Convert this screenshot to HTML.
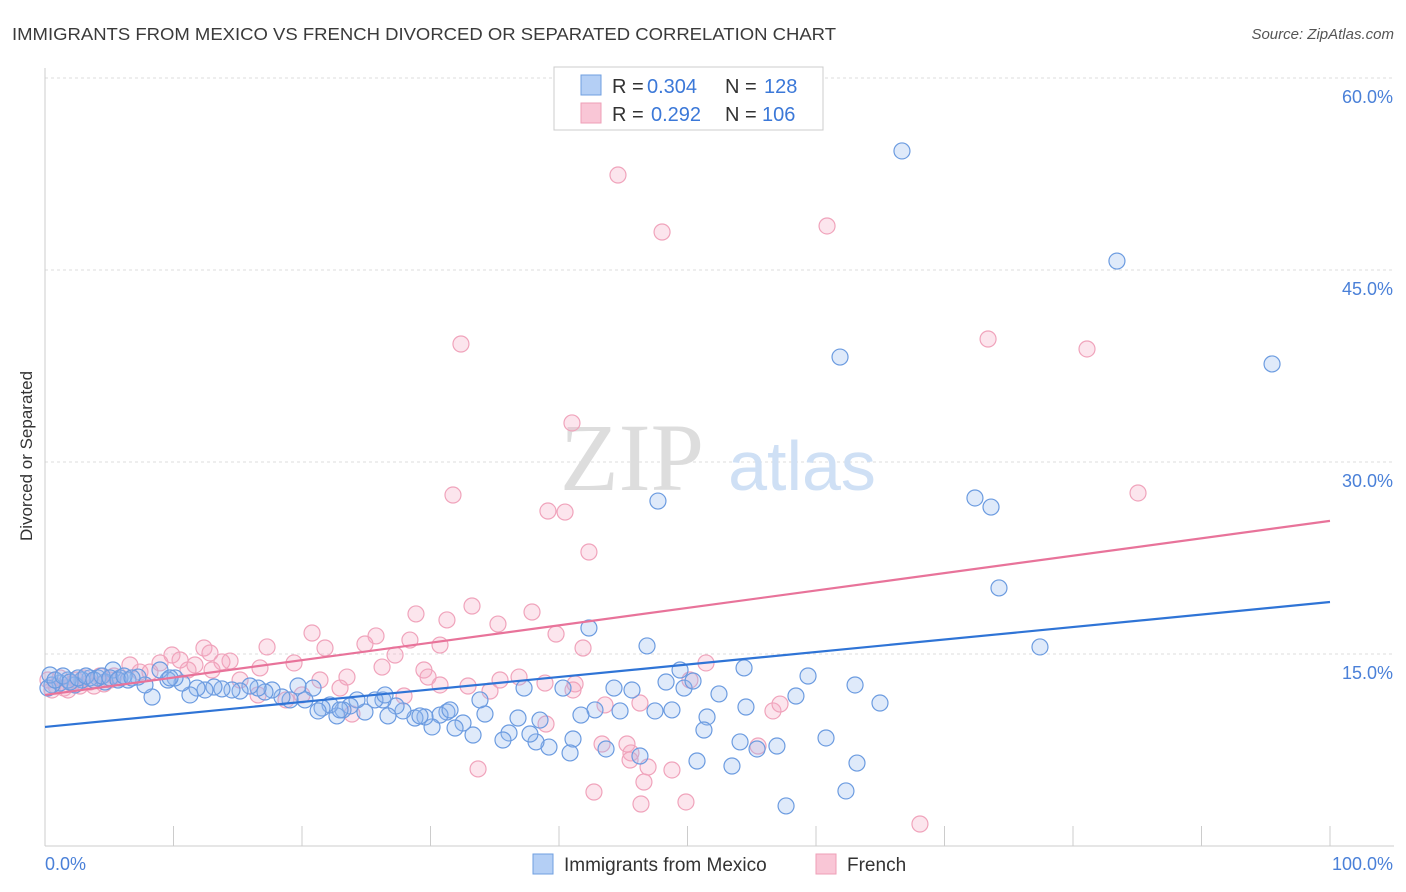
<!DOCTYPE html>
<html><head><meta charset="utf-8">
<style>
body{margin:0;background:#fff;font-family:"Liberation Sans",sans-serif;}
#wrap{position:relative;width:1406px;height:892px;overflow:hidden;}
</style></head>
<body>
<div id="wrap">
<svg id="svg" width="1406" height="892" xmlns="http://www.w3.org/2000/svg">
<text x="12" y="40" font-size="17.5" fill="#3a3a3a" textLength="824" lengthAdjust="spacingAndGlyphs">IMMIGRANTS FROM MEXICO VS FRENCH DIVORCED OR SEPARATED CORRELATION CHART</text>
<text x="1394" y="39" font-size="15" fill="#555" text-anchor="end" font-style="italic">Source: ZipAtlas.com</text>
<text x="32" y="456" font-size="17" fill="#333" text-anchor="middle" transform="rotate(-90 32 456)">Divorced or Separated</text>
<g id="grid"></g>
<g>
<text x="632" y="490" font-size="96" fill="#ddd" text-anchor="middle" font-family="Liberation Serif,serif">ZIP</text>
<text x="802" y="490" font-size="70" fill="#cfe0f5" text-anchor="middle">atlas</text>
</g>
<g id="pts"></g>
<g id="lines"></g>
<g>
<rect x="554" y="67" width="269" height="63" fill="#fff" stroke="#ccc"/>
<rect x="581" y="75" width="20" height="20" fill="#b4cff5" stroke="#6f9fe0"/>
<rect x="581" y="103" width="20" height="20" fill="#f9c6d6" stroke="#ee9fb7"/>
<text x="612" y="93" font-size="20" fill="#333">R =</text>
<text x="647" y="93" font-size="20" fill="#3b78d8">0.304</text>
<text x="725" y="93" font-size="20" fill="#333">N =</text>
<text x="764" y="93" font-size="20" fill="#3b78d8">128</text>
<text x="612" y="121" font-size="20" fill="#333">R =</text>
<text x="651" y="121" font-size="20" fill="#3b78d8">0.292</text>
<text x="725" y="121" font-size="20" fill="#333">N =</text>
<text x="762" y="121" font-size="20" fill="#3b78d8">106</text>
</g>
<g>
<rect x="533" y="854" width="20" height="20" fill="#b4cff5" stroke="#6f9fe0"/>
<text x="564" y="871" font-size="19" fill="#333">Immigrants from Mexico</text>
<rect x="816" y="854" width="20" height="20" fill="#f9c6d6" stroke="#ee9fb7"/>
<text x="847" y="871" font-size="19" fill="#333">French</text>
</g>
</svg>
</div>
<script>
const xTicks=[0,10,20,30,40,50,60,70,80,90,100];
const yTicks=[15,30,45,60];
const blueTrend=[9.3,19.06];
const pinkTrend=[11.8,25.4];
const bluePx=[[902,151],[1117,261],[840,357],[1272,364],[658,501],[975,498],[991,507],[999,588],[1040,647],[589,628],[647,646],[744,668],[808,676],[855,685],[880,703],[796,696],[826,738],[857,763],[846,791],[786,806],[732,766],[757,749],[740,742],[777,746],[746,707],[719,694],[707,717],[704,730],[697,761],[680,670],[684,688],[666,682],[693,681],[672,710],[655,711],[640,756],[632,690],[614,688],[620,711],[606,749],[595,710],[581,715],[573,739],[570,753],[563,688],[549,747],[540,720],[536,742],[530,734],[524,688],[518,718],[509,733],[503,740],[485,714],[480,700],[473,735],[463,723],[455,728],[447,712],[440,715],[432,727],[425,717],[415,718],[403,711],[396,706],[388,716],[383,700],[375,700],[365,712],[357,700],[350,706],[343,710],[337,716],[330,705],[322,708],[318,711],[313,688],[305,700],[298,686],[290,700],[282,697],[272,690],[265,692],[258,688],[250,686],[240,691],[232,690],[222,689],[214,687],[205,690],[197,688],[190,695],[182,683],[175,678],[168,680],[160,670],[152,697],[145,685],[138,677],[128,680],[120,678],[113,670],[105,682],[98,678],[90,678],[82,680],[75,685],[68,680],[60,683],[52,685],[48,688],[50,675],[55,680],[63,676],[70,682],[78,678],[86,676],[94,680],[102,676],[110,678],[118,680],[124,676],[132,678],[340,710],[385,695],[420,716],[450,710],[170,678]];
const pinkPx=[[618,175],[827,226],[662,232],[461,344],[988,339],[1087,349],[572,423],[453,495],[1138,493],[548,511],[565,512],[589,552],[472,606],[532,612],[416,614],[447,620],[498,624],[556,634],[312,633],[376,636],[410,640],[440,645],[365,644],[325,648],[267,647],[204,648],[210,653],[172,655],[195,665],[230,661],[260,668],[294,663],[320,680],[347,677],[382,667],[395,655],[424,670],[428,677],[468,686],[490,691],[519,677],[545,683],[575,684],[583,648],[605,705],[640,703],[706,663],[690,680],[773,711],[758,746],[602,744],[627,744],[631,753],[648,767],[644,782],[672,770],[686,802],[641,804],[594,792],[478,769],[546,724],[440,685],[404,696],[352,714],[302,695],[286,700],[258,695],[240,680],[222,662],[188,670],[160,663],[140,672],[130,665],[120,678],[110,680],[100,676],[90,682],[80,686],[72,684],[64,688],[56,686],[48,680],[52,690],[60,678],[68,690],[76,680],[84,678],[94,686],[104,684],[114,676],[150,672],[180,660],[212,670],[920,824],[780,704],[340,688],[500,680],[630,760],[573,690]];
const toData=p=>[+((p[0]-45)/12.85).toFixed(2),+((846-p[1])/12.8).toFixed(2)];
const blueX=bluePx.map(p=>toData(p)[0]), blueY=bluePx.map(p=>toData(p)[1]);
const pinkX=pinkPx.map(p=>toData(p)[0]), pinkY=pinkPx.map(p=>toData(p)[1]);

const NS="http://www.w3.org/2000/svg";
const sx=v=>45+v*12.85, sy=v=>846-v*12.8;
function mk(tag,attrs,parent){const e=document.createElementNS(NS,tag);for(const k in attrs)e.setAttribute(k,attrs[k]);parent.appendChild(e);return e;}
const grid=document.getElementById('grid');
yTicks.forEach(t=>{
 const l=mk('line',{x1:45,x2:1394,y1:sy(t),y2:sy(t),stroke:'#ddd','stroke-dasharray':'3,3'},grid);
 
 
 const tx=mk('text',{x:1393,y:sy(t)+25,'font-size':18,fill:'#4a80d8','text-anchor':'end'},grid);
 tx.textContent=t.toFixed(1)+'%';
 
 
});
mk('line',{x1:45,x2:45,y1:68,y2:846,stroke:'#ccc'},grid);
mk('line',{x1:45,x2:1394,y1:846,y2:846,stroke:'#ccc'},grid);
xTicks.forEach(t=>{
 const l=mk('line',{x1:sx(t),x2:sx(t),y1:826,y2:846,stroke:'#ccc'},grid);
 
 
});
const xl0=mk('text',{x:45,y:870,'font-size':18,fill:'#4a80d8'},grid);xl0.textContent='0.0%';


const xl1=mk('text',{x:1393,y:870,'font-size':18,fill:'#4a80d8','text-anchor':'end'},grid);xl1.textContent='100.0%';



const pts=document.getElementById('pts');
pinkX.forEach((x,i)=>{
 const c=mk('circle',{cx:sx(x),cy:sy(pinkY[i]),r:8,fill:'rgba(246,170,196,0.3)',stroke:'#f0a3bb','stroke-width':1.2},pts);
 
 
});
blueX.forEach((x,i)=>{
 const c=mk('circle',{cx:sx(x),cy:sy(blueY[i]),r:8,fill:'rgba(150,185,240,0.3)',stroke:'#6b9be0','stroke-width':1.2},pts);
 
 
});
const lines=document.getElementById('lines');
const lb=mk('line',{x1:sx(0),y1:sy(blueTrend[0]),x2:sx(100),y2:sy(blueTrend[1]),stroke:'#2f74d6','stroke-width':2.2},lines);


const lp=mk('line',{x1:sx(0),y1:sy(pinkTrend[0]),x2:sx(100),y2:sy(pinkTrend[1]),stroke:'#e8739a','stroke-width':2.2},lines);


</script>
</body></html>
